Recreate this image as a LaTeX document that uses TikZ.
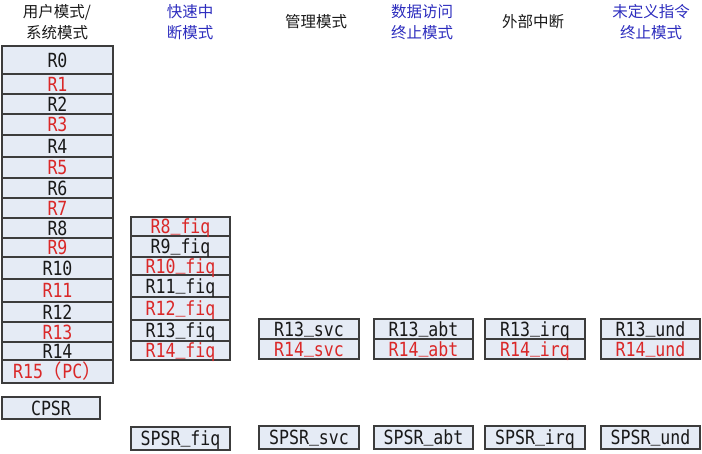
\documentclass[tikz,border=0pt]{standalone}
\usepackage{fontspec}
\newfontfamily\cjkfont{Noto Sans CJK SC}
\newfontfamily\regfont[FakeStretch=0.85]{DejaVu Sans Mono}
\newcommand\regbar{\raisebox{3.4pt}{\_}}
\definecolor{boxfill}{RGB}{229,235,245}
\definecolor{boxline}{RGB}{60,60,60}
\definecolor{ink}{RGB}{25,25,25}
\definecolor{hotred}{RGB}{218,40,40}
\definecolor{modeblue}{RGB}{45,45,190}
\tikzset{
  reg/.style={draw=boxline, fill=boxfill, line width=1.1pt, inner sep=0pt, outer sep=0pt,
    text=ink, text height=14.6pt, text depth=0pt, font=\regfont\fontsize{19.5}{20}\selectfont},
  hot/.style={text=hotred},
  usr/.style={reg, minimum width=111},
  fiq/.style={reg, minimum width=99},
  bank/.style={reg, minimum width=100, minimum height=20},
  psr/.style={reg, minimum width=100, minimum height=23},
  hdr/.style={align=center, text=ink, font=\cjkfont\fontsize{15.5}{21}\selectfont},
  hdrblue/.style={hdr, text=modeblue}
}
\begin{document}
\begin{tikzpicture}[x=1pt, y=-1pt]
    \useasboundingbox (0,0) rectangle (702,453);

    % mode titles
    \node[hdr] (uhdr) at (57,22) {用户模式/\\系统模式};
    \node[hdrblue] (fhdr) at (190,22) {快速中\\断模式};
    \node[hdr] (shdr) at (316,22) {管理模式};
    \node[hdrblue] (ahdr) at (422,22) {数据访问\\终止模式};
    \node[hdr] (ihdr) at (533,22) {外部中断};
    \node[hdrblue] (dhdr) at (651,22) {未定义指令\\终止模式};

    % user / system registers
    \node[usr, minimum height=28] (r0) at (57.5,60) {R0};
    \node[usr, hot, minimum height=20] (r1) at (57.5,84) {R1};
    \node[usr, minimum height=20] (r2) at (57.5,104) {R2};
    \node[usr, hot, minimum height=21] (r3) at (57.5,124.5) {R3};
    \node[usr, minimum height=22] (r4) at (57.5,146) {R4};
    \node[usr, hot, minimum height=21] (r5) at (57.5,167.5) {R5};
    \node[usr, minimum height=20] (r6) at (57.5,188) {R6};
    \node[usr, hot, minimum height=20] (r7) at (57.5,208) {R7};
    \node[usr, minimum height=20] (r8) at (57.5,228) {R8};
    \node[usr, hot, minimum height=19] (r9) at (57.5,247.5) {R9};
    \node[usr, minimum height=22] (r10) at (57.5,268) {R10};
    \node[usr, hot, minimum height=23] (r11) at (57.5,290.5) {R11};
    \node[usr, minimum height=20] (r12) at (57.5,312) {R12};
    \node[usr, hot, minimum height=20] (r13) at (57.5,332) {R13};
    \node[usr, minimum height=18] (r14) at (57.5,351) {R14};
    \node[usr, hot, minimum height=23] (r15) at (57.5,371.5) {R15{\cjkfont（}PC{\cjkfont）}};

    \node[reg, minimum width=98, minimum height=22] (cpsr) at (51,408) {CPSR};

    % fiq registers (bottom up, so the descenders stay on top)
    \node[fiq, hot, minimum height=19] (r14f) at (180.5,350.5) {R14\regbar fiq};
    \node[fiq, minimum height=21] (r13f) at (180.5,330.5) {R13\regbar fiq};
    \node[fiq, hot, minimum height=23] (r12f) at (180.5,308.5) {R12\regbar fiq};
    \node[fiq, minimum height=22] (r11f) at (180.5,286) {R11\regbar fiq};
    \node[fiq, hot, minimum height=18] (r10f) at (180.5,266) {R10\regbar fiq};
    \node[fiq, minimum height=21] (r9f) at (180.5,246.5) {R9\regbar fiq};
    \node[fiq, hot, minimum height=19] (r8f) at (180.5,226.5) {R8\regbar fiq};
    \node[psr, minimum width=99] (spsrf) at (180.5,438.5) {SPSR\regbar fiq};

    % svc
    \node[bank, hot] (r14s) at (309,349) {R14\regbar svc};
    \node[bank] (r13s) at (309,329) {R13\regbar svc};
    \node[psr] (spsrs) at (309,437.5) {SPSR\regbar svc};

    % abt
    \node[bank, hot, minimum width=99] (r14a) at (423.5,349) {R14\regbar abt};
    \node[bank, minimum width=99] (r13a) at (423.5,329) {R13\regbar abt};
    \node[psr, minimum width=99] (spsra) at (423.5,437.5) {SPSR\regbar abt};

    % irq
    \node[bank, hot] (r14i) at (535,349) {R14\regbar irq};
    \node[bank] (r13i) at (535,329) {R13\regbar irq};
    \node[psr] (spsri) at (535,437.5) {SPSR\regbar irq};

    % und
    \node[bank, hot, minimum width=99] (r14u) at (650.5,349) {R14\regbar und};
    \node[bank, minimum width=99] (r13u) at (650.5,329) {R13\regbar und};
    \node[psr, minimum width=99] (spsru) at (650.5,437.5) {SPSR\regbar und};

\end{tikzpicture}
\end{document}
